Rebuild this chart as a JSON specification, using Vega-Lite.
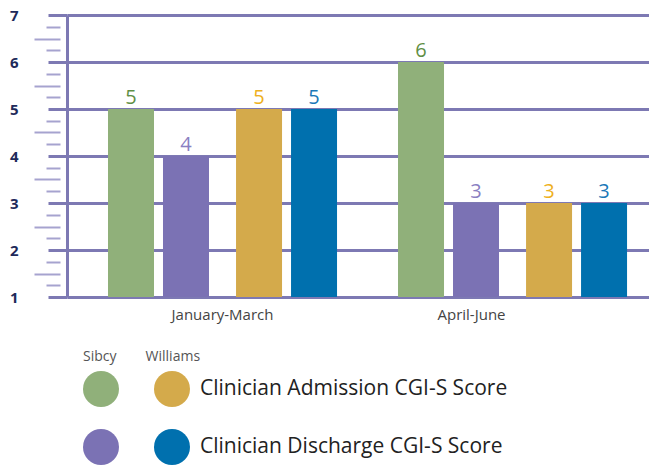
{
  "$schema": "https://vega.github.io/schema/vega-lite/v6.json",
  "width": 582,
  "height": 282,
  "autosize": {"type": "none"},
  "padding": {"left": 67, "top": 15, "right": 0, "bottom": 168},
  "config": {"view": {"stroke": null}, "font": "Open Sans"},
  "data": {
    "values": [
      {"period": "January-March", "hospital": "Sibcy", "metric": "Admission", "series": "Sibcy Admission", "value": 5},
      {"period": "January-March", "hospital": "Sibcy", "metric": "Discharge", "series": "Sibcy Discharge", "value": 4},
      {"period": "January-March", "hospital": "Williams", "metric": "Admission", "series": "Williams Admission", "value": 5},
      {"period": "January-March", "hospital": "Williams", "metric": "Discharge", "series": "Williams Discharge", "value": 5},
      {"period": "April-June", "hospital": "Sibcy", "metric": "Admission", "series": "Sibcy Admission", "value": 6},
      {"period": "April-June", "hospital": "Sibcy", "metric": "Discharge", "series": "Sibcy Discharge", "value": 3},
      {"period": "April-June", "hospital": "Williams", "metric": "Admission", "series": "Williams Admission", "value": 3},
      {"period": "April-June", "hospital": "Williams", "metric": "Discharge", "series": "Williams Discharge", "value": 3}
    ]
  },
  "resolve": {"scale": {"xOffset": "independent"}, "axis": {"y": "independent"}},
  "layer": [
    {
      "mark": {"type": "point", "opacity": 0},
      "encoding": {
        "y": {
          "field": "value", "type": "quantitative",
          "scale": {"domain": [1, 7], "nice": false, "zero": false},
          "axis": {"orient": "left", "values": [1.25, 1.75, 2.25, 2.75, 3.25, 3.75, 4.25, 4.75, 5.25, 5.75, 6.25, 6.75], "offset": 7, "tickSize": 14, "tickWidth": 2, "tickColor": "#a6a3cf", "domain": false, "labels": false, "grid": false, "title": null}
        }
      }
    },
    {
      "mark": {"type": "point", "opacity": 0},
      "encoding": {
        "y": {
          "field": "value", "type": "quantitative",
          "scale": {"domain": [1, 7], "nice": false, "zero": false},
          "axis": {"orient": "left", "values": [1.5, 2.5, 3.5, 4.5, 5.5, 6.5], "offset": 7, "tickSize": 26, "tickWidth": 2, "tickColor": "#a6a3cf", "domain": false, "labels": false, "grid": false, "title": null}
        }
      }
    },
    {
      "transform": [{"filter": "datum.hospital == 'Sibcy'"}],
      "encoding": {
        "x": {
          "field": "period", "type": "nominal",
          "scale": {"domain": ["January-March", "April-June"], "paddingInner": 0.1966, "paddingOuter": 0.1017, "align": 0.695},
          "axis": {"orient": "bottom", "domain": false, "ticks": false, "grid": false, "labelPadding": 10, "labelFontSize": 15, "labelColor": "#444444", "labelFont": "Open Sans", "title": null, "labelAngle": 0, "labelOffset": {"expr": "datum.value == 'April-June' ? -43 : -2"}}
        },
        "xOffset": {
          "field": "metric", "type": "nominal",
          "scale": {"domain": ["Admission", "Discharge", "_a", "_b"], "paddingInner": 0.1636, "paddingOuter": 0.2, "align": 0}
        },
        "y": {
          "field": "value", "type": "quantitative",
          "scale": {"domain": [1, 7], "nice": false, "zero": false},
          "axis": {"orient": "left", "values": [1, 2, 3, 4, 5, 6, 7], "grid": true, "gridColor": "#7d79b3", "gridWidth": 3, "domainColor": "#7d79b3", "domainWidth": 3, "tickSize": 19, "tickWidth": 3, "tickColor": "#7d79b3", "labelPadding": 30, "labelFont": "Open Sans", "labelFontWeight": "bold", "labelFontSize": 15, "labelColor": "#1e2a5a", "title": null}
        }
      },
      "layer": [
        {
          "mark": {"type": "bar"},
          "encoding": {
            "y2": {"datum": 1},
            "color": {
              "field": "series", "type": "nominal",
              "scale": {"domain": ["Sibcy Admission", "Williams Admission", "Sibcy Discharge", "Williams Discharge"], "range": ["#90b07a", "#d4aa4b", "#7b72b4", "#0070ae"]},
              "legend": {
                "orient": "none", "legendX": 16, "legendY": 335, "direction": "horizontal", "columns": 2,
                "title": "Sibcy\u00a0\u00a0\u00a0\u00a0\u00a0\u00a0\u00a0\u00a0Williams",
                "titleFont": "Open Sans", "titleFontSize": 14, "titleFontWeight": "normal", "titleColor": "#555555", "titlePadding": 7,
                "symbolType": "circle", "symbolSize": 1296, "symbolStrokeWidth": 0, "symbolOpacity": 1,
                "labelFont": "Open Sans", "labelFontSize": 21, "labelColor": "#222222", "labelOffset": 10, "labelLimit": 500,
                "columnPadding": 25, "rowPadding": 22, "padding": 0,
                "labelExpr": "indexof(datum.label, 'Sibcy') == 0 ? '' : (indexof(datum.label, 'Admission') > 0 ? 'Clinician Admission CGI-S Score' : 'Clinician Discharge CGI-S Score')"
              }
            }
          }
        },
        {
          "mark": {"type": "text", "fontSize": 20, "baseline": "alphabetic", "dy": -5, "font": "Open Sans"},
          "encoding": {
            "text": {"field": "value", "type": "quantitative"},
            "fill": {
              "field": "series", "type": "nominal",
              "scale": {"domain": ["Sibcy Admission", "Williams Admission", "Sibcy Discharge", "Williams Discharge"], "range": ["#5f8f45", "#eeb020", "#8a80c2", "#1a78b8"]},
              "legend": null
            }
          }
        }
      ]
    },
    {
      "transform": [{"filter": "datum.hospital == 'Williams'"}],
      "encoding": {
        "x": {
          "field": "period", "type": "nominal",
          "scale": {"domain": ["January-March", "April-June"], "paddingInner": 0.1966, "paddingOuter": 0.1017, "align": 0.695},
          "axis": {"orient": "bottom", "domain": false, "ticks": false, "grid": false, "labelPadding": 10, "labelFontSize": 15, "labelColor": "#444444", "labelFont": "Open Sans", "title": null, "labelAngle": 0, "labelOffset": {"expr": "datum.value == 'April-June' ? -43 : -2"}}
        },
        "xOffset": {
          "field": "metric", "type": "nominal",
          "scale": {"domain": ["_a", "_b", "Admission", "Discharge"], "paddingInner": 0.1636, "paddingOuter": 0.2, "align": 0.82}
        },
        "y": {
          "field": "value", "type": "quantitative",
          "scale": {"domain": [1, 7], "nice": false, "zero": false},
          "axis": null
        }
      },
      "layer": [
        {
          "mark": {"type": "bar"},
          "encoding": {
            "y2": {"datum": 1},
            "color": {"field": "series", "type": "nominal"}
          }
        },
        {
          "mark": {"type": "text", "fontSize": 20, "baseline": "alphabetic", "dy": -5, "font": "Open Sans"},
          "encoding": {
            "text": {"field": "value", "type": "quantitative"},
            "fill": {"field": "series", "type": "nominal", "legend": null}
          }
        }
      ]
    }
  ]
}
